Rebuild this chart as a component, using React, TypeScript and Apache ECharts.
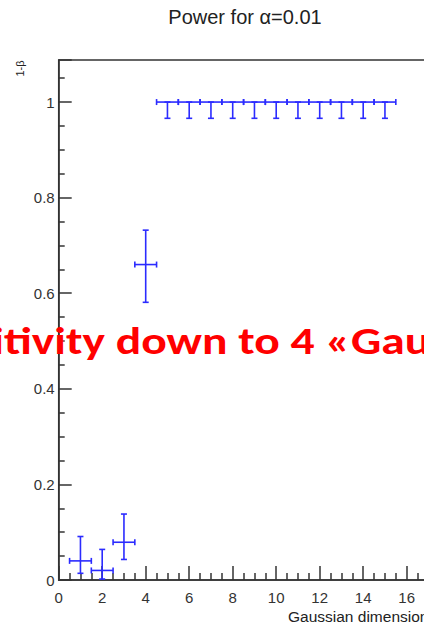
import React, { useEffect, useRef } from "react";
import * as echarts from "echarts";

// Data
const dimensions = [1, 2, 3, 4, 5, 6, 7, 8, 9, 10, 11, 12, 13, 14, 15];
const powerValues = [0.04, 0.02, 0.079, 0.66, 1, 1, 1, 1, 1, 1, 1, 1, 1, 1, 1];
const powerLower = [0.014, 0.002, 0.043, 0.581, 0.966, 0.966, 0.966, 0.966, 0.966, 0.966, 0.966, 0.966, 0.966, 0.966, 0.966];
const powerUpper = [0.091, 0.064, 0.138, 0.732, 1, 1, 1, 1, 1, 1, 1, 1, 1, 1, 1];
const binHalfWidth = [0.5, 0.5, 0.5, 0.5, 0.5, 0.5, 0.5, 0.5, 0.5, 0.5, 0.5, 0.5, 0.5, 0.5, 0.5];
const xTickLabels = [0, 2, 4, 6, 8, 10, 12, 14, 16];
const yTickLabels = [0, 0.2, 0.4, 0.6, 0.8, 1];

const titleText = "Power for \u03b1=0.01";
const yTitle = "1-\u03b2";
const xTitle = "Gaussian dimensions";
const overlayText = "Sensitivity down to 4 \u00abGaussian\u00bb";
const overlayPrefix = "Sensi";
const overlayVisible = "tivity down to 4 \u00abGa";

const BLUE = "#2b2bff";
const AXIS = "#333333";
const CHART_W = 500;
const CHART_H = 623;

export default function App() {
  const ref = useRef<HTMLDivElement>(null);

  useEffect(() => {
    if (!ref.current) return;
    const chart = echarts.init(ref.current, undefined, { renderer: "svg" });

    // measure overlay text to place it like the (cropped) reference
    const fontFamily = 'Carlito, "Open Sans", sans-serif';
    const fontSize = 38;
    const cv = document.createElement("canvas");
    const ctx = cv.getContext("2d")!;
    ctx.font = `bold ${fontSize}px ${fontFamily}`;
    const wPre = ctx.measureText(overlayPrefix).width;
    const wVis = ctx.measureText(overlayVisible).width;
    const sx = 401 / wVis;
    const overlayX = 4 - wPre * sx;

    const data = dimensions.map((d, i) => [
      d,
      powerValues[i],
      binHalfWidth[i],
      powerLower[i],
      powerUpper[i],
    ]);

    const labelFont = '"Liberation Sans", Arial, sans-serif';

    const option: any = {
      animation: false,
      grid: {
        left: 58.7,
        top: 60,
        bottom: 43,
        right: 6.3,
        show: true,
        borderColor: AXIS,
        borderWidth: 1.5,
        containLabel: false,
      },
      xAxis: {
        type: "value",
        min: 0,
        max: 20,
        interval: 2,
        axisLine: { show: true, lineStyle: { color: AXIS, width: 1.5 } },
        axisTick: { show: true, inside: true, length: 14, lineStyle: { color: AXIS, width: 1.5 } },
        minorTick: { show: true, splitNumber: 4, length: 7, lineStyle: { color: AXIS, width: 1.5 } },
        splitLine: { show: false },
        axisLabel: {
          margin: 10,
          fontSize: 15,
          fontFamily: labelFont,
          color: AXIS,
          formatter: (v: number) => (xTickLabels.includes(v) ? String(v) : ""),
        },
      },
      yAxis: {
        type: "value",
        min: 0,
        max: 1.088,
        interval: 0.2,
        axisLine: { show: true, lineStyle: { color: AXIS, width: 1.5 } },
        axisTick: { show: true, inside: true, length: 13, lineStyle: { color: AXIS, width: 1.5 } },
        minorTick: { show: true, splitNumber: 4, length: 6, lineStyle: { color: AXIS, width: 1.5 } },
        splitLine: { show: false },
        axisLabel: {
          margin: 4,
          fontSize: 15,
          fontFamily: labelFont,
          color: AXIS,
          formatter: (v: number) => {
            const hit = yTickLabels.find((t) => Math.abs(t - v) < 1e-6);
            return hit === undefined ? "" : String(hit);
          },
        },
      },
      series: [
        {
          type: "custom",
          data,
          renderItem: (params: any, api: any) => {
            const x = api.value(0);
            const y = api.value(1);
            const hw = api.value(2);
            const lo = api.value(3);
            const hi = api.value(4);
            const pL = api.coord([x - hw, y]);
            const pR = api.coord([x + hw, y]);
            const pB = api.coord([x, lo]);
            const pT = api.coord([x, hi]);
            const cap = 3;
            const style = { stroke: BLUE, lineWidth: 1.6, fill: "none" };
            const children: any[] = [
              { type: "line", shape: { x1: pL[0], y1: pL[1], x2: pR[0], y2: pR[1] }, style },
              { type: "line", shape: { x1: pL[0], y1: pL[1] - cap, x2: pL[0], y2: pL[1] + cap }, style },
              { type: "line", shape: { x1: pR[0], y1: pR[1] - cap, x2: pR[0], y2: pR[1] + cap }, style },
              { type: "line", shape: { x1: pB[0], y1: pB[1], x2: pT[0], y2: pT[1] }, style },
              { type: "line", shape: { x1: pB[0] - cap, y1: pB[1], x2: pB[0] + cap, y2: pB[1] }, style },
              { type: "line", shape: { x1: pT[0] - cap, y1: pT[1], x2: pT[0] + cap, y2: pT[1] }, style },
            ];
            return { type: "group", children };
          },
          z: 3,
        },
      ],
      graphic: [
        {
          type: "text",
          x: 245,
          y: 17,
          style: {
            text: titleText,
            fontSize: 20,
            fontFamily: labelFont,
            fill: "#222",
            align: "center",
            verticalAlign: "middle",
          },
        },
        {
          type: "text",
          x: 19.5,
          y: 68.5,
          rotation: Math.PI / 2,
          style: {
            text: yTitle,
            fontSize: 11,
            fontFamily: labelFont,
            fill: "#222",
            align: "center",
            verticalAlign: "middle",
          },
        },
        {
          type: "text",
          x: 288,
          y: 616,
          style: {
            text: xTitle,
            fontSize: 15.5,
            fontFamily: labelFont,
            fill: "#222",
            align: "left",
            verticalAlign: "middle",
          },
        },
        {
          type: "text",
          x: overlayX,
          y: 341,
          scaleX: sx,
          z: 100,
          style: {
            text: overlayText,
            fontSize: fontSize,
            fontWeight: "bold",
            fontFamily: fontFamily,
            fill: "#ff0000",
            align: "left",
            verticalAlign: "middle",
          },
        },
      ],
    };

    chart.setOption(option);
    return () => chart.dispose();
  }, []);

  return (
    <div
      ref={ref}
      style={{ position: "fixed", left: 0, top: 0, width: CHART_W, height: CHART_H, background: "#fff" }}
    />
  );
}
